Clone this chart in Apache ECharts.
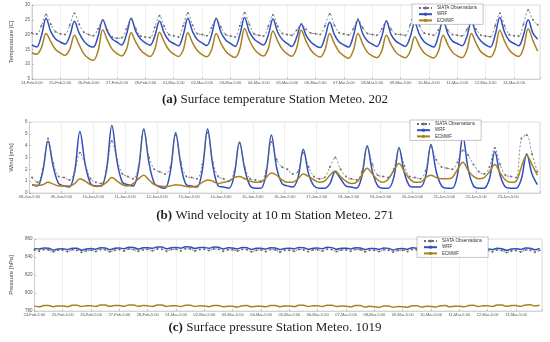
<!DOCTYPE html>
<html><head><meta charset="utf-8">
<script src="https://cdn.jsdelivr.net/npm/echarts@6/dist/echarts.min.js"></script>
<style>html,body{margin:0;padding:0;background:#fff}#c{width:550px;height:342px}</style>
</head><body><div id="c"></div>
<script>
// ---- tick labels ----
const febMarDays = ['24-Feb-5:00','25-Feb-5:00','26-Feb-5:00','27-Feb-5:00','28-Feb-5:00','01-Mar-5:00','02-Mar-5:00','03-Mar-5:00','04-Mar-5:00','05-Mar-5:00','06-Mar-5:00','07-Mar-5:00','08-Mar-5:00','09-Mar-5:00','10-Mar-5:00','11-Mar-5:00','12-Mar-5:00','13-Mar-5:00'];
const janDays = ['08-Jan-5:00','09-Jan-5:00','10-Jan-5:00','11-Jan-5:00','12-Jan-5:00','13-Jan-5:00','14-Jan-5:00','15-Jan-5:00','16-Jan-5:00','17-Jan-5:00','18-Jan-5:00','19-Jan-5:00','20-Jan-5:00','21-Jan-5:00','22-Jan-5:00','23-Jan-5:00'];
const seriesNames = ['SIATA Observations','WRF','ECMWF'];
const captions = ['(a)|Surface temperature Station Meteo. 202','(b)|Wind velocity at 10 m Station Meteo. 271','(c)|Surface pressure Station Meteo. 1019'];
// samples every 4 hours (hours after first tick)
const tempStartHour = 0, windStartHour = 2, presStartHour = 0, sampleStep = 4;

// ---- (a) temperature [C] ----
const tempObs = [
20.5,20.2,23.0,26.8,23.5,21.0, 20.3,20.0,23.2,27.2,23.5,20.8, 20.0,19.6,22.0,24.8,21.5,19.2,
18.8,18.9,22.0,25.2,22.0,19.5, 19.2,19.0,22.5,26.4,22.8,20.0, 19.6,19.2,23.0,27.3,23.2,20.3,
20.0,19.6,22.3,25.4,22.5,20.0, 19.5,19.2,23.0,27.4,23.5,20.2, 19.8,19.5,22.8,26.6,22.8,20.4,
20.0,19.8,21.5,23.5,21.8,20.5, 20.3,20.0,23.0,27.0,23.2,20.6, 20.2,19.9,22.0,25.2,22.3,20.4,
20.0,19.8,21.8,24.6,21.8,20.2, 20.0,19.7,23.2,27.5,23.0,20.5, 20.1,19.8,21.5,24.0,21.5,20.0,
19.8,19.5,21.6,24.4,21.8,19.8, 19.5,19.3,23.0,27.2,23.0,20.0, 19.6,19.5,23.5,28.3,25.0,23.3];
const tempWrf = [
16.5,15.8,19.5,25.5,21.0,18.5, 17.5,16.8,19.5,24.5,20.5,17.8, 16.3,15.8,19.5,25.0,21.0,18.5,
17.5,16.5,20.0,25.5,21.0,18.5, 17.2,16.4,19.5,24.6,20.5,18.0, 17.0,16.2,19.8,25.5,21.0,18.3,
17.2,16.3,19.8,25.4,20.8,18.2, 17.0,16.0,20.0,25.8,21.0,18.5, 17.3,16.5,19.8,25.3,20.8,18.3,
17.0,16.0,19.0,23.6,19.8,17.5, 16.3,15.6,19.0,24.2,20.0,17.5, 16.5,15.8,19.5,25.0,20.3,17.8,
16.8,16.0,19.3,24.6,20.0,17.8, 16.8,16.0,19.0,24.0,20.0,17.6, 16.5,15.8,19.5,25.0,20.3,17.8,
17.0,16.2,19.2,24.4,20.2,17.8, 16.5,15.8,19.8,25.8,20.8,18.0, 17.0,16.2,19.8,25.0,20.5,18.4];
const tempEcmwf = [
13.8,13.4,15.5,20.4,17.6,15.0, 13.8,13.0,15.0,19.8,16.5,13.5, 12.0,11.3,14.5,21.6,18.0,15.0,
13.6,12.8,15.0,20.6,17.4,14.8, 13.4,12.6,15.0,20.8,17.5,14.8, 13.4,12.6,14.8,20.6,17.2,14.6,
13.2,12.5,14.8,20.4,17.0,14.4, 13.0,12.3,15.2,22.1,18.2,15.2, 13.6,12.8,15.2,21.2,17.8,15.0,
13.5,12.7,15.4,21.5,17.8,14.8, 13.2,12.4,14.8,20.4,17.0,14.2, 12.8,12.0,14.6,20.4,16.8,14.0,
12.8,12.2,14.4,19.8,16.6,14.0, 12.8,12.2,14.2,19.3,16.2,13.8, 12.7,12.1,14.4,19.8,16.6,14.0,
12.8,12.2,14.6,20.4,17.0,14.2, 13.0,12.4,15.0,21.5,17.8,14.8, 13.3,12.6,15.4,22.0,18.0,14.4];

// ---- (b) wind [m/s] ----
const windObs = [
1.3,0.9,2.0,4.6,2.5,1.4, 1.3,1.1,1.8,3.4,2.4,1.2, 0.9,0.8,1.9,4.4,2.8,1.6, 1.4,1.2,2.2,5.3,3.0,2.0,
1.8,1.6,2.2,4.9,2.6,1.4, 1.3,1.2,2.4,5.1,2.6,1.4, 1.2,1.0,1.8,4.2,2.2,1.2, 1.1,1.0,1.9,4.3,2.8,2.2,
2.0,1.6,1.8,3.4,2.2,1.4, 1.2,1.3,2.2,3.0,2.0,1.4, 1.2,1.1,1.8,3.9,2.4,1.5, 1.4,1.3,2.0,3.8,2.3,1.4,
1.3,1.2,1.9,3.9,2.8,2.2, 2.1,2.0,2.6,3.6,3.2,2.4, 1.8,1.6,2.2,3.8,2.4,1.5, 1.4,1.3,4.6,4.9,3.3,1.8];
const windWrf = [
0.7,0.6,1.8,4.4,2.2,0.8, 0.6,0.5,1.8,5.2,2.4,0.8, 0.6,0.6,2.0,5.7,2.6,0.9, 0.7,0.6,2.0,5.4,2.5,0.8,
0.5,0.4,1.8,5.1,2.3,0.7, 0.6,0.5,1.9,5.4,2.3,0.6, 0.5,0.4,1.5,4.3,2.0,0.6, 0.4,0.4,1.6,4.9,2.1,0.8,
0.6,0.5,1.3,3.7,1.6,0.6, 0.4,0.4,0.8,1.8,1.2,0.6, 0.5,0.4,1.4,4.0,1.8,0.6, 0.4,0.4,1.3,3.8,1.7,0.6,
0.5,0.5,1.4,4.1,1.8,0.6, 0.4,0.4,1.6,4.8,2.0,0.6, 0.4,0.4,1.2,3.5,1.5,0.5, 0.4,0.4,1.2,3.3,1.6,0.7];
const windEcmwf = [
0.7,0.65,0.7,0.9,0.75,0.6, 0.6,0.6,0.8,1.2,1.0,0.7, 0.55,0.6,0.9,1.3,1.0,0.7, 0.6,0.8,1.2,1.5,1.1,0.7,
0.6,0.55,0.6,0.7,0.65,0.55, 0.5,0.6,0.9,1.1,1.0,0.8, 0.9,1.0,1.3,1.4,1.2,1.0, 0.9,0.9,1.3,1.7,1.5,1.1,
0.9,0.9,1.2,1.6,1.4,1.1, 0.9,1.0,1.5,1.85,1.4,1.0, 0.8,0.9,1.5,2.1,1.6,1.1, 0.9,1.2,1.9,2.5,1.8,1.2,
0.9,0.9,1.3,1.5,1.3,1.2, 1.2,1.3,2.0,2.6,1.9,1.4, 1.2,1.3,1.8,2.4,1.7,1.1, 0.9,1.0,2.2,3.2,2.4,1.5];

// ---- (c) pressure [hPa] ----
const presObs = [
848.0,846.5,848.2,847.8,845.8,847.5, 847.8,846.0,848.0,847.5,845.2,847.0, 847.5,846.0,848.3,848.0,845.8,847.6,
848.2,846.8,848.8,848.4,846.3,848.0, 848.5,847.0,849.0,848.6,846.5,848.2, 848.5,847.0,849.2,849.0,846.8,848.4,
848.6,847.2,849.0,848.5,846.5,848.0, 848.0,846.6,848.5,848.0,845.8,847.5, 847.8,846.2,848.2,847.8,845.6,847.4,
847.6,846.4,848.4,848.0,846.0,847.8, 848.0,846.6,848.6,848.2,846.2,847.8, 848.0,846.5,848.4,848.0,845.8,847.5,
847.6,846.0,848.0,847.6,845.6,847.3, 847.6,846.2,848.2,847.8,845.8,847.5, 847.8,846.4,848.5,848.2,846.0,847.6,
847.8,846.3,848.2,847.6,845.5,847.2, 847.3,845.8,847.8,847.2,845.0,846.8, 847.2,845.6,847.9,847.6,845.4,847.4];
const presWrf = [
849.6,848.8,850.0,849.8,847.8,849.0, 849.2,848.3,849.8,849.6,847.6,849.0, 849.4,848.6,850.2,850.0,848.2,849.6,
850.0,849.2,850.8,850.6,848.8,850.2, 850.4,849.6,851.2,851.0,849.2,850.4, 850.6,849.8,851.4,851.2,849.4,850.6,
850.6,849.7,851.2,850.8,849.0,850.2, 850.0,849.0,850.6,850.2,848.4,849.6, 849.6,848.8,850.4,850.0,848.2,849.5,
849.8,849.0,850.6,850.4,848.6,849.8, 850.0,849.2,850.8,850.4,848.6,849.8, 849.8,849.0,850.4,850.0,848.2,849.4,
849.4,848.6,850.0,849.6,847.8,849.2, 849.4,848.6,850.2,849.8,848.0,849.4, 849.6,848.8,850.4,850.0,848.2,849.5,
849.6,848.7,850.2,849.6,847.8,849.0, 849.0,848.2,849.6,849.2,847.4,848.8, 849.2,848.4,850.0,849.8,848.0,849.6];
const presEcmwf = [
785.4,784.6,786.0,786.2,784.8,785.6, 785.6,784.8,786.3,786.4,785.0,785.8, 785.8,785.0,786.6,786.6,785.2,786.0,
786.0,785.2,786.8,786.8,785.2,786.0, 785.8,785.0,786.6,786.6,785.0,785.8, 785.8,785.0,786.4,786.4,785.0,785.8,
785.6,784.8,786.2,786.2,784.6,785.4, 785.2,784.4,785.8,786.0,784.6,785.4, 785.4,784.6,786.2,786.2,784.8,785.6,
785.6,784.8,786.4,786.4,785.0,785.8, 785.8,785.0,786.4,786.4,785.0,785.6, 785.4,784.6,786.0,786.0,784.4,785.2,
784.8,784.0,785.6,785.6,784.2,785.0, 784.8,784.2,785.8,785.8,784.4,785.2, 785.0,784.4,785.8,786.0,784.6,785.4,
785.4,784.6,786.2,786.4,785.0,785.8, 785.8,785.0,786.6,786.6,785.2,786.0, 786.0,785.2,786.8,787.0,785.6,786.4];

// ---- build ----
const sans = 'Liberation Sans';
const serif = 'Liberation Serif';
const C_OBS = '#6e6e6e', C_WRF = '#2f4fbf', C_EC = '#a9801f';
const grids = [
  {left: 19, right: 10, top: 5, height: 74},
  {left: 15, right: 10, top: 122, height: 71},
  {left: 22, right: 8, top: 239, height: 72}
];
const yCfg = [
  {min: 5, max: 30, interval: 5, name: 'Temperature [C]', gap: 13},
  {min: 0, max: 6, interval: 1, name: 'Wind [m/s]', gap: 12},
  {min: 780, max: 860, interval: 20, name: 'Pressure [hPa]', gap: 18}
];
const xCfg = [
  {max: 430, labels: febMarDays},
  {max: 384, labels: janDays},
  {max: 430, labels: febMarDays}
];
function pts(vals, start) { return vals.map((v, i) => [start + i * sampleStep, v]); }
function obsSeries(i, vals, start, col) {
  return {type: 'line', name: seriesNames[0], xAxisIndex: i, yAxisIndex: i, data: pts(vals, start),
    smooth: 0.35, symbol: 'circle', symbolSize: 2, showSymbol: true,
    lineStyle: {color: col, width: 0.8, type: [2, 2]}, itemStyle: {color: col}, z: 3};
}
function modelSeries(i, nameIdx, vals, start, col) {
  return {type: 'line', name: seriesNames[nameIdx], xAxisIndex: i, yAxisIndex: i, data: pts(vals, start),
    smooth: 0.35, showSymbol: false, symbol: 'none',
    lineStyle: {color: col, width: 1.5}, itemStyle: {color: col}, z: 2};
}
const series = [
  obsSeries(0, tempObs, tempStartHour, C_OBS), modelSeries(0, 1, tempWrf, tempStartHour, C_WRF), modelSeries(0, 2, tempEcmwf, tempStartHour, C_EC),
  obsSeries(1, windObs, windStartHour, C_OBS), modelSeries(1, 1, windWrf, windStartHour, C_WRF), modelSeries(1, 2, windEcmwf, windStartHour, C_EC),
  obsSeries(2, presObs, presStartHour, '#5b6b62'), modelSeries(2, 1, presWrf, presStartHour, C_WRF), modelSeries(2, 2, presEcmwf, presStartHour, C_EC)
];
const legendPos = [{left: 412, top: 4}, {left: 410, top: 120}, {left: 417, top: 237}];
const captionTops = [88, 204, 316];

const option = {
  animation: false,
  backgroundColor: '#fff',
  grid: grids.map(g => Object.assign({show: true, borderColor: '#c8c8c8', borderWidth: 0.6, backgroundColor: 'transparent'}, g)),
  xAxis: xCfg.map((c, i) => ({
    type: 'value', gridIndex: i, min: 0, max: c.max, interval: 24,
    axisLine: {show: true, lineStyle: {color: '#bdbdbd', width: 0.6}},
    axisTick: {show: true, length: 2, inside: true, lineStyle: {color: '#999', width: 0.5}},
    splitLine: {show: true, lineStyle: {color: '#e4e4e4', width: 0.6}},
    axisLabel: {fontSize: 4, color: '#555', fontFamily: sans, margin: 2,
      formatter: v => (v % 24 === 0 && c.labels[v / 24] !== undefined) ? c.labels[v / 24] : ''}
  })),
  yAxis: yCfg.map((c, i) => ({
    type: 'value', gridIndex: i, min: c.min, max: c.max, interval: c.interval,
    name: c.name, nameLocation: 'middle', nameGap: c.gap,
    nameTextStyle: {fontSize: 6, color: '#444', fontFamily: sans},
    axisLine: {show: true, lineStyle: {color: '#bdbdbd', width: 0.6}},
    axisTick: {show: true, length: 2, inside: true, lineStyle: {color: '#999', width: 0.5}},
    splitLine: {show: false},
    axisLabel: {fontSize: 4.5, color: '#555', fontFamily: sans, margin: 2}
  })),
  legend: legendPos.map(p => ({
    left: p.left, top: p.top, orient: 'vertical', data: seriesNames,
    itemWidth: 13, itemHeight: 4, itemGap: 1.2, padding: [1.5, 6, 1.5, 6],
    backgroundColor: '#fff', borderColor: '#8a8a8a', borderWidth: 0.5,
    textStyle: {fontSize: 4.5, color: '#333', fontFamily: sans}, selectedMode: false
  })),
  title: captions.map((t, i) => {
    const parts = t.split('|');
    return {
      text: '{b|' + parts[0] + '} ' + parts[1], left: 'center', top: captionTops[i],
      textStyle: {fontSize: 13, fontWeight: 'normal', color: '#1e1e1e', fontFamily: serif,
        rich: {b: {fontSize: 13, fontWeight: 'bold', color: '#1e1e1e', fontFamily: serif}}}
    };
  }),
  series: series
};
const chart = echarts.init(document.getElementById('c'), null, {renderer: 'canvas'});
chart.setOption(option);
</script></body></html>
